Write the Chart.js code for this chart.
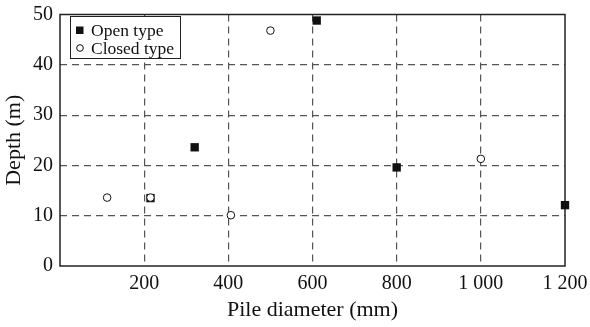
<!DOCTYPE html>
<html>
<head>
<meta charset="utf-8">
<script src="https://cdn.jsdelivr.net/npm/chart.js@4"></script>
<style>
  html, body { margin: 0; padding: 0; background: #fff; }
  #wrap { width: 590px; height: 327px; }
</style>
</head>
<body>
<div id="wrap"><canvas id="myChart" width="590" height="327"></canvas></div>
<script>
// data
const openX = [215, 320, 610, 800, 1200];
const openY = [13.5, 23.6, 48.8, 19.6, 12.1];
const closedX = [112, 215, 406, 500, 1000];
const closedY = [13.6, 13.6, 10.1, 46.8, 21.3];
const xTicks = [200, 400, 600, 800, 1000, 1200];
const yTicks = [0, 10, 20, 30, 40, 50];

const FONT = "'Liberation Serif', 'Times New Roman', serif";

function toPoints(xs, ys) {
  return xs.map((x, i) => ({ x: x, y: ys[i] }));
}

function fmt(v) {
  // space as thousands separator like the original
  return String(v).replace(/\B(?=(\d{3})+(?!\d))/g, " ");
}

// box around the plot area, drawn under the points
const frame = {
  id: "frame",
  beforeDatasetsDraw(chart) {
    const { ctx, chartArea: a } = chart;
    ctx.save();
    ctx.strokeStyle = "#222";
    ctx.lineWidth = 1.5;
    ctx.strokeRect(a.left, a.top, a.right - a.left, a.bottom - a.top);
    ctx.restore();
  }
};

// legend inside the plot, top-left
const insideLegend = {
  id: "insideLegend",
  afterDatasetsDraw(chart) {
    const { ctx, chartArea: a } = chart;
    const lx = a.left + 10, ly = a.top + 1.5, lw = 110, lh = 42;
    ctx.save();
    ctx.fillStyle = "#fff";
    ctx.fillRect(lx, ly, lw, lh);
    ctx.lineWidth = 1;
    ctx.strokeStyle = "#222";
    ctx.strokeRect(lx + 0.5, ly + 0.5, lw, lh);
    ctx.font = "17.5px " + FONT;
    ctx.textBaseline = "middle";
    chart.data.datasets.forEach((ds, i) => {
      const cy = ly + 14 + i * 18;
      if (ds.pointStyle === "rect") {
        ctx.fillStyle = "#111";
        ctx.fillRect(lx + 6, cy - 3.5, 7.5, 7.5);
      } else {
        ctx.beginPath();
        ctx.arc(lx + 10, cy, 3.3, 0, Math.PI * 2);
        ctx.strokeStyle = "#111";
        ctx.stroke();
      }
      ctx.fillStyle = "#111";
      ctx.fillText(ds.label, lx + 21, cy + 1);
    });
    ctx.restore();
  }
};

new Chart(document.getElementById("myChart"), {
  type: "scatter",
  data: {
    datasets: [
      {
        label: "Open type",
        data: toPoints(openX, openY),
        pointStyle: "rect",
        pointRadius: 5.9,
        pointHoverRadius: 5.9,
        backgroundColor: "#111",
        borderColor: "#111",
        borderWidth: 0,
        clip: false,
        order: 1
      },
      {
        label: "Closed type",
        data: toPoints(closedX, closedY),
        pointStyle: "circle",
        pointRadius: 3.8,
        pointHoverRadius: 3.8,
        backgroundColor: "#fff",
        borderColor: "#111",
        borderWidth: 1,
        clip: false,
        order: 0
      }
    ]
  },
  options: {
    responsive: false,
    animation: false,
    layout: { padding: { top: 14.5, right: 25, left: 0, bottom: 0 } },
    plugins: {
      legend: { display: false },
      tooltip: { enabled: false }
    },
    scales: {
      x: {
        type: "linear",
        min: 0,
        max: 1200,
        afterBuildTicks: axis => { axis.ticks = [0].concat(xTicks).map(v => ({ value: v })); },
        afterFit: axis => {
          axis.height = 61;
          axis.paddingLeft = 0;
          axis.paddingRight = 0;
        },
        border: { display: false, dash: [7, 5] },
        grid: {
          drawTicks: false,
          color: c => (c.tick.value === 0 || c.tick.value === 1200) ? "rgba(0,0,0,0)" : "#555",
          lineWidth: 1.2
        },
        ticks: {
          color: "#111",
          padding: 6,
          font: { family: FONT, size: 20 },
          maxRotation: 0,
          callback: v => v === 0 ? "" : fmt(v)
        },
        title: {
          display: true,
          text: "Pile diameter (mm)",
          color: "#111",
          font: { family: FONT, size: 22 },
          padding: { top: 2 }
        }
      },
      y: {
        type: "linear",
        min: 0,
        max: 50,
        afterBuildTicks: axis => { axis.ticks = yTicks.map(v => ({ value: v })); },
        afterFit: axis => {
          axis.width = 60;
          axis.paddingTop = 0;
          axis.paddingBottom = 0;
        },
        border: { display: false, dash: [7, 5] },
        grid: {
          drawTicks: false,
          color: c => (c.tick.value === 0 || c.tick.value === 50) ? "rgba(0,0,0,0)" : "#555",
          lineWidth: 1.2
        },
        ticks: {
          color: "#111",
          padding: 7,
          font: { family: FONT, size: 20 }
        },
        title: {
          display: true,
          text: "Depth (m)",
          color: "#111",
          font: { family: FONT, size: 22 },
          padding: { top: 1 }
        }
      }
    }
  },
  plugins: [frame, insideLegend]
});
</script>
</body>
</html>
